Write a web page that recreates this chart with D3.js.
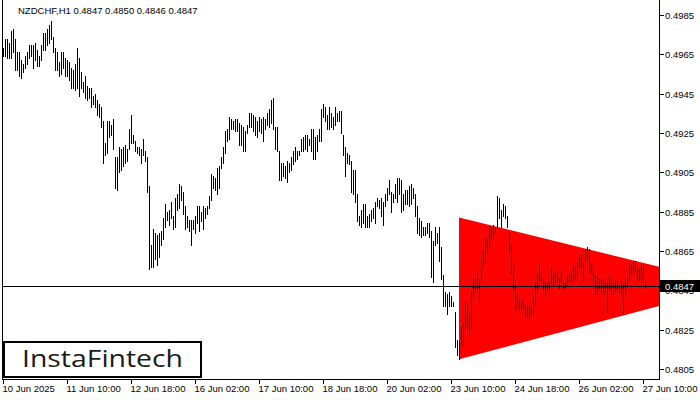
<!DOCTYPE html>
<html><head><meta charset="utf-8">
<script src="https://cdn.jsdelivr.net/npm/d3@7"></script>
<style>html,body{margin:0;padding:0;background:#fff;}svg{display:block;}</style>
</head><body>
<svg id="c" width="700" height="400"></svg>
<script>
const titleText = "NZDCHF,H1  0.4847 0.4850 0.4846 0.4847";
const highs = [
0.4968,0.4973,0.4973,0.4971,0.4977,0.4978,0.4973,0.4966,0.4966,0.4962,
0.4960,0.4964,0.4966,0.4970,0.4970,0.4970,0.4971,0.4967,0.4964,0.4970,
0.4976,0.4976,0.4978,0.4980,0.4982,0.4974,0.4968,0.4966,0.4961,0.4966,
0.4966,0.4963,0.4962,0.4961,0.4958,0.4957,0.4960,0.4968,0.4963,0.4956,
0.4951,0.4954,0.4949,0.4948,0.4948,0.4944,0.4945,0.4942,0.4940,0.4938,
0.4931,0.4920,0.4931,0.4931,0.4929,0.4932,0.4913,0.4913,0.4918,0.4917,
0.4918,0.4919,0.4917,0.4927,0.4934,0.4924,0.4921,0.4918,0.4918,0.4917,
0.4922,0.4916,0.4913,0.4898,0.4868,0.4876,0.4874,0.4873,0.4874,0.4875,
0.4882,0.4889,0.4885,0.4886,0.4890,0.4883,0.4892,0.4894,0.4899,0.4898,
0.4895,0.4888,0.4883,0.4881,0.4881,0.4881,0.4883,0.4888,0.4888,0.4885,
0.4888,0.4887,0.4888,0.4893,0.4904,0.4903,0.4902,0.4907,0.4908,0.4913,
0.4918,0.4926,0.4927,0.4933,0.4932,0.4931,0.4932,0.4932,0.4930,0.4929,
0.4928,0.4926,0.4929,0.4935,0.4935,0.4934,0.4933,0.4931,0.4933,0.4932,
0.4933,0.4932,0.4935,0.4937,0.4942,0.4943,0.4928,0.4928,0.4916,0.4910,
0.4910,0.4908,0.4911,0.4910,0.4913,0.4916,0.4918,0.4916,0.4916,0.4922,
0.4923,0.4924,0.4924,0.4922,0.4927,0.4927,0.4923,0.4924,0.4927,0.4937,
0.4940,0.4938,0.4934,0.4938,0.4935,0.4933,0.4938,0.4935,0.4936,0.4936,
0.4924,0.4918,0.4915,0.4914,0.4911,0.4906,0.4906,0.4894,0.4883,0.4886,
0.4889,0.4889,0.4883,0.4884,0.4886,0.4887,0.4890,0.4892,0.4891,0.4892,
0.4890,0.4894,0.4897,0.4901,0.4895,0.4894,0.4899,0.4902,0.4902,0.4901,
0.4894,0.4896,0.4896,0.4898,0.4899,0.4897,0.4894,0.4888,0.4882,0.4880,
0.4877,0.4877,0.4879,0.4879,0.4875,0.4870,0.4877,0.4874,0.4877,0.4867,
0.4853,0.4844,0.4843,0.4844,0.4842,0.4839,0.4834,0.4820,0.4819,0.4827,
0.4829,0.4839,0.4838,0.4833,0.4844,0.4851,0.4851,0.4855,0.4851,0.4861,
0.4865,0.4872,0.4871,0.4877,0.4877,0.4878,0.4877,0.4893,0.4892,0.4886,
0.4889,0.4888,0.4883,0.4875,0.4868,0.4859,0.4848,0.4843,0.4841,0.4840,
0.4840,0.4838,0.4837,0.4837,0.4837,0.4841,0.4849,0.4853,0.4859,0.4855,
0.4851,0.4849,0.4849,0.4850,0.4857,0.4854,0.4854,0.4855,0.4852,0.4855,
0.4849,0.4850,0.4853,0.4853,0.4855,0.4858,0.4857,0.4859,0.4863,0.4863,
0.4859,0.4866,0.4867,0.4866,0.4859,0.4857,0.4853,0.4853,0.4851,0.4851,
0.4851,0.4849,0.4849,0.4853,0.4852,0.4849,0.4851,0.4850,0.4847,0.4850,
0.4848,0.4850,0.4851,0.4858,0.4858,0.4860,0.4860,0.4856,0.4856,0.4858,
0.4858,0.4850];
const lows = [
0.4964,0.4964,0.4963,0.4963,0.4963,0.4966,0.4957,0.4957,0.4954,0.4953,
0.4956,0.4958,0.4960,0.4963,0.4964,0.4958,0.4962,0.4959,0.4959,0.4962,
0.4967,0.4967,0.4970,0.4971,0.4973,0.4966,0.4957,0.4957,0.4954,0.4955,
0.4958,0.4954,0.4954,0.4952,0.4948,0.4948,0.4947,0.4948,0.4944,0.4948,
0.4946,0.4943,0.4942,0.4943,0.4938,0.4940,0.4938,0.4934,0.4933,0.4928,
0.4910,0.4914,0.4915,0.4923,0.4924,0.4917,0.4897,0.4896,0.4905,0.4906,
0.4908,0.4910,0.4911,0.4917,0.4920,0.4920,0.4916,0.4915,0.4914,0.4910,
0.4914,0.4911,0.4895,0.4856,0.4857,0.4857,0.4861,0.4858,0.4862,0.4868,
0.4871,0.4877,0.4881,0.4878,0.4882,0.4876,0.4877,0.4886,0.4887,0.4891,
0.4884,0.4876,0.4877,0.4875,0.4868,0.4876,0.4874,0.4879,0.4875,0.4880,
0.4876,0.4882,0.4884,0.4887,0.4891,0.4897,0.4896,0.4894,0.4897,0.4907,
0.4910,0.4915,0.4921,0.4922,0.4927,0.4927,0.4926,0.4926,0.4919,0.4919,
0.4916,0.4916,0.4925,0.4928,0.4928,0.4926,0.4924,0.4923,0.4926,0.4925,
0.4921,0.4927,0.4929,0.4928,0.4930,0.4927,0.4917,0.4916,0.4901,0.4901,
0.4903,0.4902,0.4900,0.4905,0.4906,0.4909,0.4911,0.4912,0.4914,0.4916,
0.4916,0.4917,0.4916,0.4919,0.4916,0.4912,0.4912,0.4916,0.4921,0.4921,
0.4933,0.4931,0.4927,0.4927,0.4928,0.4927,0.4929,0.4931,0.4931,0.4925,
0.4914,0.4903,0.4910,0.4909,0.4895,0.4894,0.4890,0.4880,0.4878,0.4877,
0.4879,0.4877,0.4877,0.4877,0.4880,0.4882,0.4879,0.4888,0.4887,0.4883,
0.4878,0.4888,0.4891,0.4894,0.4885,0.4890,0.4892,0.4890,0.4894,0.4885,
0.4886,0.4889,0.4889,0.4888,0.4889,0.4892,0.4883,0.4874,0.4873,0.4872,
0.4873,0.4873,0.4874,0.4872,0.4852,0.4849,0.4868,0.4869,0.4860,0.4851,
0.4837,0.4837,0.4833,0.4837,0.4837,0.4837,0.4816,0.4812,0.4810,0.4817,
0.4816,0.4827,0.4826,0.4822,0.4825,0.4841,0.4844,0.4845,0.4839,0.4849,
0.4858,0.4859,0.4864,0.4867,0.4870,0.4871,0.4874,0.4877,0.4882,0.4877,
0.4883,0.4882,0.4877,0.4865,0.4854,0.4845,0.4835,0.4836,0.4834,0.4836,
0.4836,0.4832,0.4831,0.4831,0.4832,0.4833,0.4838,0.4844,0.4849,0.4849,
0.4845,0.4841,0.4845,0.4844,0.4848,0.4847,0.4848,0.4849,0.4846,0.4849,
0.4845,0.4846,0.4847,0.4849,0.4849,0.4850,0.4851,0.4852,0.4857,0.4857,
0.4850,0.4860,0.4860,0.4855,0.4854,0.4849,0.4843,0.4843,0.4845,0.4844,
0.4843,0.4844,0.4834,0.4845,0.4843,0.4843,0.4844,0.4845,0.4844,0.4842,
0.4833,0.4841,0.4847,0.4850,0.4853,0.4854,0.4855,0.4851,0.4850,0.4851,
0.4850,0.4846];
const lastPrice = 0.4847;
const yTicks = [0.4985,0.4965,0.4945,0.4925,0.4905,0.4885,0.4865,0.4845,0.4825,0.4805];
const xTickBars = [0,32,64,96,128,160,192,224,256,288,320];
const xTickLabels = ["10 Jun 2025","11 Jun 10:00","12 Jun 18:00","16 Jun 02:00","17 Jun 10:00","18 Jun 18:00","20 Jun 02:00","23 Jun 10:00","24 Jun 18:00","26 Jun 02:00","27 Jun 10:00"];
const triangleBars = [228, 328];
const triangleUpper = [0.4882, 0.4857];
const triangleLower = [0.4810, 0.4837];
const logoText = "InstaFintech";

const svg = d3.select("#c");
const x = d3.scaleLinear().domain([0, 328]).range([3, 659]);
const y = d3.scaleLinear().domain([0.4805, 0.4985]).range([369, 15]);
const font = "'Liberation Sans', Arial, sans-serif";
const defs = svg.append("defs");

defs.append("clipPath").attr("id","plot")
  .append("rect").attr("x",3).attr("y",0).attr("width",656).attr("height",379);

const plot = svg.append("g").attr("clip-path","url(#plot)");

// triangle pattern
const triPts = [
  [x(triangleBars[0]), y(triangleUpper[0])],
  [x(triangleBars[1]), y(triangleUpper[1])],
  [x(triangleBars[1]), y(triangleLower[1])],
  [x(triangleBars[0]), y(triangleLower[0])]
];
plot.append("path").attr("d", d3.line()(triPts) + "Z").attr("fill","#ff0000");

// bars
plot.append("g").selectAll("line").data(highs).join("line")
  .attr("x1",(d,i)=>Math.round(x(i))+0.5).attr("x2",(d,i)=>Math.round(x(i))+0.5)
  .attr("y1",d=>Math.round(y(d)))
  .attr("y2",(d,i)=>Math.round(y(lows[i]))+1)
  .attr("stroke","#000").attr("stroke-width",1).attr("shape-rendering","crispEdges");

// last price line
const yl = Math.round(y(lastPrice))+0.5;
const boxTop = Math.round(y(lastPrice))-6, boxH = 12;
plot.append("line").attr("x1",3).attr("x2",659).attr("y1",yl).attr("y2",yl)
  .attr("stroke","#000").attr("shape-rendering","crispEdges");

// frame
svg.append("line").attr("x1",2.5).attr("x2",2.5).attr("y1",0).attr("y2",380).attr("stroke","#000").attr("shape-rendering","crispEdges");
svg.append("line").attr("x1",2).attr("x2",660).attr("y1",379.5).attr("y2",379.5).attr("stroke","#000").attr("shape-rendering","crispEdges");
svg.append("line").attr("x1",659.5).attr("x2",659.5).attr("y1",0).attr("y2",380).attr("stroke","#000").attr("shape-rendering","crispEdges");

// clip for tick label hidden behind the price box (only its lower edge shows)
defs.append("clipPath").attr("id","belowBox")
  .append("rect").attr("x",660).attr("y",boxTop+boxH).attr("width",40).attr("height",10);

// y axis
const ya = svg.append("g");
yTicks.forEach(v => {
  const yy = Math.round(y(v))+0.5;
  ya.append("line").attr("x1",660).attr("x2",664).attr("y1",yy).attr("y2",yy).attr("stroke","#000").attr("shape-rendering","crispEdges");
  const hidden = Math.abs(v - lastPrice) < 0.0006;
  const g = hidden ? ya.append("g").attr("clip-path","url(#belowBox)") : ya;
  g.append("text").attr("x",665).attr("y",yy).attr("dy","0.35em")
    .attr("font-family",font).attr("font-size","9.5px").attr("fill","#000").text(v.toFixed(4));
});
// price label
ya.append("rect").attr("x",660).attr("y",boxTop).attr("width",40).attr("height",boxH).attr("fill","#000");
ya.append("text").attr("x",665).attr("y",yl).attr("dy","0.35em")
  .attr("font-family",font).attr("font-size","9.5px").attr("fill","#fff").text(lastPrice.toFixed(4));

// x axis
const xa = svg.append("g");
xTickBars.forEach((b,k) => {
  const xx = Math.round(x(b))+0.5;
  xa.append("line").attr("x1",xx).attr("x2",xx).attr("y1",380).attr("y2",384).attr("stroke","#000").attr("shape-rendering","crispEdges");
  xa.append("text").attr("x",xx-1).attr("y",392)
    .attr("font-family",font).attr("font-size","9.5px").attr("fill","#000").text(xTickLabels[k]);
});

// title
svg.append("text").attr("x",18).attr("y",14).attr("font-family",font).attr("font-size","9.5px").attr("fill","#000").text(titleText);

// logo
const lg = svg.append("g");
lg.append("rect").attr("x",4).attr("y",342).attr("width",197).attr("height",35)
  .attr("fill","#fff").attr("stroke","#000").attr("stroke-width",2);
lg.append("text").attr("x",22).attr("y",367).attr("font-family","'Open Sans', Inter, sans-serif")
  .attr("font-size","23px").attr("font-weight",500).attr("fill","#1a1a1a")
  .attr("textLength",161).attr("lengthAdjust","spacingAndGlyphs").text(logoText);
</script>
</body></html>
